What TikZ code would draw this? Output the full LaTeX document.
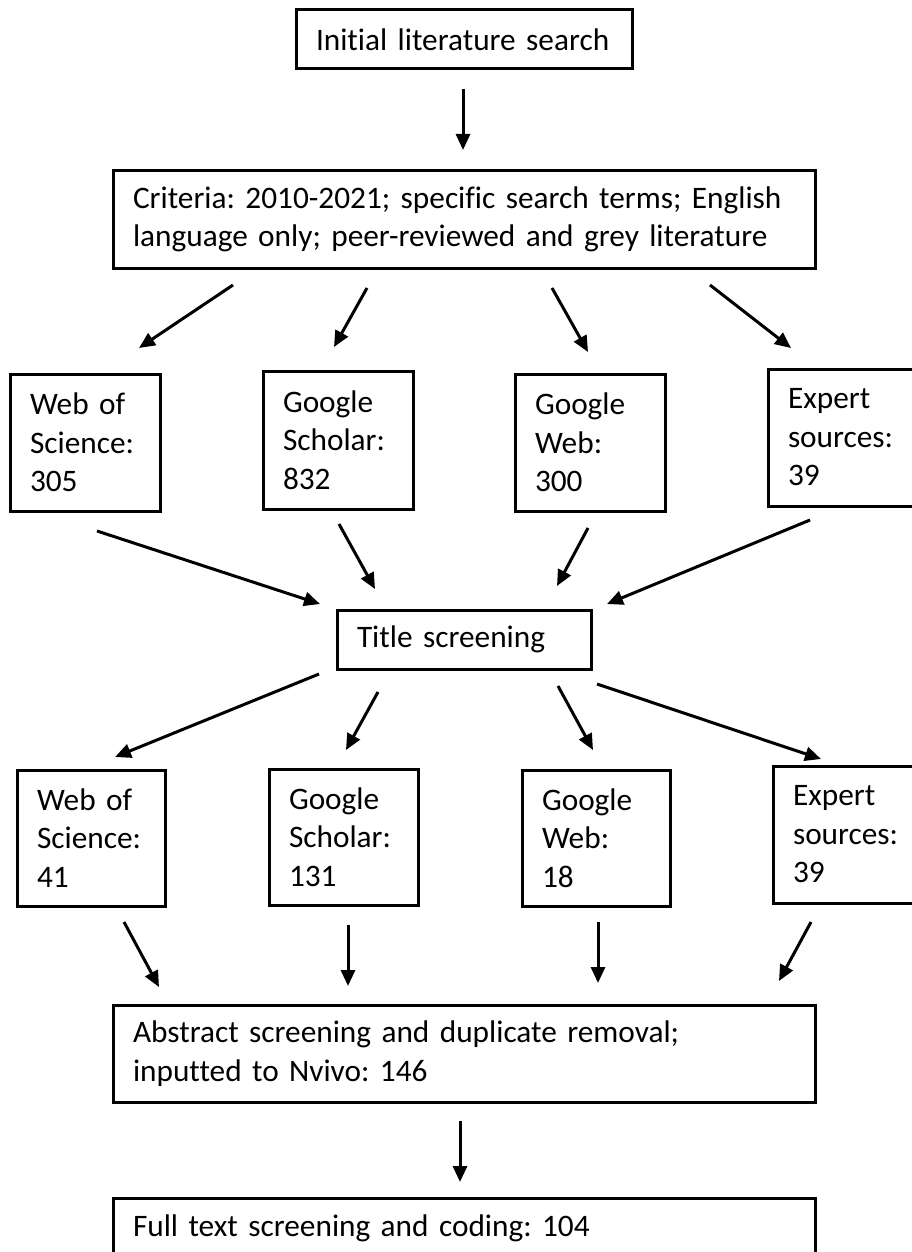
\documentclass[tikz,border=0pt]{standalone}
\usepackage{fontspec}
\setmainfont{Carlito}[Ligatures=NoCommon]
\usetikzlibrary{arrows.meta}
\newcommand{\boxfont}{\fontsize{31.3}{38.5}\selectfont\frenchspacing}

\begin{document}
\begin{tikzpicture}[x=1pt, y=-1pt]
	\tikzstyle{box} = [draw, rectangle, line width=3pt, anchor=north west, outer sep=0pt, inner xsep=20pt, inner ysep=1pt, align=left, font=\boxfont]
	\tikzstyle{arr} = [line width=3pt, -{Triangle[length=16pt, width=14pt]}]
	\useasboundingbox (0,0) rectangle (911,1252);
	\node[box, text width=296pt, minimum height=59pt] (init) at (296,10) {Initial literature search};
	\node[box, text width=662pt, minimum height=97pt] (crit) at (113,171) {Criteria: 2010-2021; specific search terms; English\\language only; peer-reviewed and grey literature};
	\node[box, text width=110pt, minimum height=137pt] (wos1) at (10,374) {Web of\\Science:\\305};
	\node[box, text width=110pt, minimum height=138pt] (gs1) at (263,371) {Google\\Scholar:\\832};
	\node[box, text width=110pt, minimum height=137pt] (gw1) at (515,374) {Google\\Web:\\300};
	\node[box, text width=110pt, minimum height=137pt] (ex1) at (768,369) {Expert\\sources:\\39};
	\node[box, text width=214pt, minimum height=59pt] (title) at (337,610) {Title screening};
	\node[box, text width=108pt, minimum height=136pt] (wos2) at (17,770) {Web of\\Science:\\41};
	\node[box, text width=109pt, minimum height=136pt] (gs2) at (269,769) {Google\\Scholar:\\131};
	\node[box, text width=108pt, minimum height=136pt] (gw2) at (522,770) {Google\\Web:\\18};
	\node[box, text width=110pt, minimum height=137pt] (ex2) at (773,766) {Expert\\sources:\\39};
	\node[box, text width=662pt, minimum height=97pt] (abs) at (113,1005) {Abstract screening and duplicate removal;\\inputted to Nvivo: 146};
	\node[box, text width=662pt, minimum height=60pt] (full) at (113,1198) {Full text screening and coding: 104};
	% arrow ends
	\coordinate (s0) at (463,89);   \coordinate (t0) at (463,150);
	\coordinate (s1) at (233,285);  \coordinate (t1) at (139,348);
	\coordinate (s2) at (367,288);  \coordinate (t2) at (334,347);
	\coordinate (s3) at (552,288);  \coordinate (t3) at (588,352);
	\coordinate (s4) at (710,285);  \coordinate (t4) at (791,348);
	\coordinate (s5) at (97,531);   \coordinate (t5) at (320,604);
	\coordinate (s6) at (339,524);  \coordinate (t6) at (375,589);
	\coordinate (s7) at (588,528);  \coordinate (t7) at (557,586);
	\coordinate (s8) at (810,520);  \coordinate (t8) at (607,604);
	\coordinate (s9) at (319,674);  \coordinate (t9) at (115,757);
	\coordinate (s10) at (378,692); \coordinate (t10) at (346,750);
	\coordinate (s11) at (558,686); \coordinate (t11) at (593,750);
	\coordinate (s12) at (597,684); \coordinate (t12) at (821,759);
	\coordinate (s13) at (124,922); \coordinate (t13) at (159,987);
	\coordinate (s14) at (348,925); \coordinate (t14) at (348,986);
	\coordinate (s15) at (598,922); \coordinate (t15) at (598,983);
	\coordinate (s16) at (811,922); \coordinate (t16) at (779,981);
	\coordinate (s17) at (460,1121); \coordinate (t17) at (460,1182);
	\draw[arr] (s0)--(t0);
	\draw[arr] (s1)--(t1);
	\draw[arr] (s2)--(t2);
	\draw[arr] (s3)--(t3);
	\draw[arr] (s4)--(t4);
	\draw[arr] (s5)--(t5);
	\draw[arr] (s6)--(t6);
	\draw[arr] (s7)--(t7);
	\draw[arr] (s8)--(t8);
	\draw[arr] (s9)--(t9);
	\draw[arr] (s10)--(t10);
	\draw[arr] (s11)--(t11);
	\draw[arr] (s12)--(t12);
	\draw[arr] (s13)--(t13);
	\draw[arr] (s14)--(t14);
	\draw[arr] (s15)--(t15);
	\draw[arr] (s16)--(t16);
	\draw[arr] (s17)--(t17);
\end{tikzpicture}
\end{document}
